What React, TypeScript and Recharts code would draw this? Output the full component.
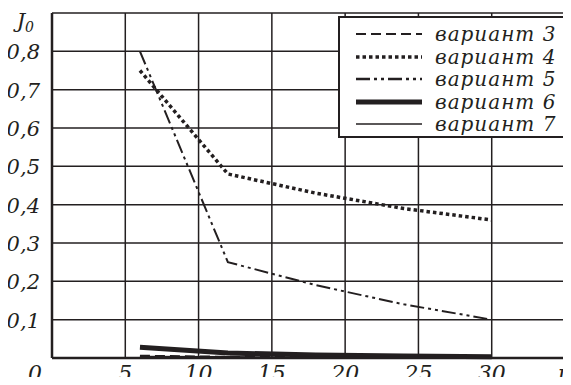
import { LineChart, Line, XAxis, YAxis, CartesianGrid } from 'recharts';

const uValues = [6, 12, 18, 24, 30];
const variant3 = [0.006, 0.003, 0.002, 0.002, 0.001];
const variant4 = [0.75, 0.48, 0.43, 0.39, 0.36];
const variant5 = [0.8, 0.25, 0.19, 0.14, 0.1];
const variant6 = [0.028, 0.013, 0.008, 0.005, 0.003];
const variant7 = [0.004, 0.003, 0.002, 0.002, 0.002];

const xTicks = [0, 5, 10, 15, 20, 25, 30, 35];
const yTicks = [0, 0.1, 0.2, 0.3, 0.4, 0.5, 0.6, 0.7, 0.8, 0.9];

const data = uValues.map((u, i) => ({
  u,
  v3: variant3[i],
  v4: variant4[i],
  v5: variant5[i],
  v6: variant6[i],
  v7: variant7[i],
}));

const series = [
  { key: 'v3', name: 'вариант 3', width: 2, dash: '10 5' },
  { key: 'v4', name: 'вариант 4', width: 3.5, dash: '3.5 3' },
  { key: 'v5', name: 'вариант 5', width: 2, dash: '14 4 3 4 3 4' },
  { key: 'v6', name: 'вариант 6', width: 5, dash: undefined },
  { key: 'v7', name: 'вариант 7', width: 1.5, dash: undefined },
];

// serif italic, like the Times in the source figure
const FONT = "'DejaVu Serif', serif";
const INK = '#231f20';

const XTick = ({ x, y, payload }: any) => {
  const v = payload.value;
  let label = String(v);
  let dx = 0;
  if (v === 0) dx = -17;
  if (v === 35) label = 'u';
  return (
    <text x={x + dx} y={y + 15} textAnchor="middle" style={{ fontFamily: FONT, fontStyle: 'italic', fontSize: 22 }} fill={INK}>
      {label}
    </text>
  );
};

const YTick = ({ x, y, payload }: any) => {
  const v = payload.value;
  if (v === 0) return null;
  if (v > 0.85) {
    return (
      <text x={x - 10} y={y + 15} textAnchor="end" style={{ fontFamily: FONT, fontStyle: 'italic', fontSize: 21 }} fill={INK}>
        J<tspan fontSize={14} dy={4}>0</tspan>
      </text>
    );
  }
  return (
    <text x={x - 4} y={y + 8} textAnchor="end" style={{ fontFamily: FONT, fontStyle: 'italic', fontSize: 21 }} fill={INK}>
      {v.toFixed(1).replace('.', ',')}
    </text>
  );
};

const LegendBox = () => (
  <div
    style={{
      position: 'absolute',
      top: 16,
      left: 338,
      width: 227,
      height: 122,
      background: '#fff',
      border: `2px solid ${INK}`,
      padding: '5px 0 0 0',
      boxSizing: 'border-box',
    }}
  >
    {series.map((s) => (
      <div key={s.key} style={{ display: 'flex', alignItems: 'center', height: 22.5 }}>
        <svg width={92} height={14} style={{ flex: 'none' }}>
          <line x1={16} y1={7} x2={82} y2={7} stroke={INK} strokeWidth={s.key === 'v5' ? 2.5 : s.width} strokeDasharray={s.dash} />
        </svg>
        <span
          style={{
            marginLeft: 3,
            fontFamily: FONT,
            fontStyle: 'italic',
            fontSize: 20,
            letterSpacing: 1,
            color: INK,
            lineHeight: '20px',
            whiteSpace: 'nowrap',
          }}
        >
          {s.name}
        </span>
      </div>
    ))}
  </div>
);

export default function App() {
  return (
    <div style={{ position: 'relative', margin: -8, width: 571, height: 385, background: '#fff' }}>
      <LineChart width={571} height={385} data={data} margin={{ top: 13, right: 6, left: 0, bottom: 0 }}>
        <CartesianGrid stroke={INK} strokeWidth={1.5} horizontalValues={yTicks} verticalValues={xTicks} />
        <XAxis
          dataKey="u"
          type="number"
          domain={[0, 35]}
          ticks={xTicks}
          interval={0}
          height={27}
          axisLine={{ stroke: INK, strokeWidth: 2.5 }}
          tickLine={false}
          tick={<XTick />}
        />
        <YAxis
          type="number"
          domain={[0, 0.9]}
          ticks={yTicks}
          interval={0}
          width={52}
          axisLine={{ stroke: INK, strokeWidth: 2.5 }}
          tickLine={false}
          tick={<YTick />}
        />
        {series.map((s) => (
          <Line
            key={s.key}
            dataKey={s.key}
            name={s.name}
            type="linear"
            stroke={INK}
            strokeWidth={s.width}
            strokeDasharray={s.dash}
            dot={false}
            isAnimationActive={false}
          />
        ))}
      </LineChart>
      <LegendBox />
    </div>
  );
}
